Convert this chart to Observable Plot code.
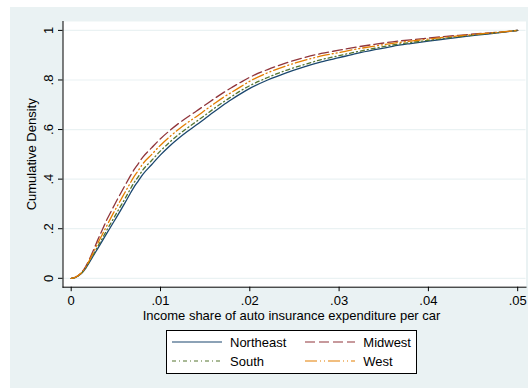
<!DOCTYPE html>
<html><head><meta charset="utf-8">
<script src="https://cdn.jsdelivr.net/npm/d3@7"></script>
<script src="https://cdn.jsdelivr.net/npm/@observablehq/plot@0.6"></script>
<style>
html,body{margin:0;padding:0;background:#fff;}
#wrap{position:relative;width:528px;height:388px;overflow:hidden;font-family:"Liberation Sans",Arial,sans-serif;}
#panel{position:absolute;left:10px;top:7px;right:0;bottom:0;background:#eaf2f3;}
#chart{position:absolute;left:0;top:0;}
#legend{position:absolute;left:166px;top:330px;width:251px;height:44px;box-sizing:border-box;border:1px solid #000;background:#fff;font-size:13px;color:#000;}
#legend .lab{position:absolute;line-height:1;white-space:nowrap;transform:translateY(-50%);}
#legend svg{position:absolute;overflow:visible;}
</style></head>
<body><div id="wrap"><div id="panel"></div><div id="chart"></div><div id="legend"></div></div>
<script>
// ---- data ----
const shares = [0, .0005, .001, .0015, .002, .0025, .003, .0035, .004, .0045, .005, .0055, .006, .0065, .007, .0075, .008, .009, .010, .011, .012, .013, .014, .015, .016, .017, .018, .019, .020, .022, .024, .026, .028, .030, .032, .034, .036, .038, .040, .042, .044, .046, .048, .050];
const northeast = [0, .004, .015, .034, .062, .092, .122, .152, .182, .212, .242, .272, .303, .335, .366, .392, .418, .458, .498, .533, .564, .592, .618, .645, .672, .698, .722, .745, .766, .80, .828, .852, .873, .89, .907, .922, .936, .947, .957, .966, .975, .983, .991, 1.0];
const midwest = [0, .005, .018, .040, .074, .114, .157, .197, .237, .272, .307, .340, .373, .405, .436, .462, .488, .526, .563, .595, .624, .650, .674, .699, .724, .748, .770, .791, .811, .842, .868, .889, .907, .920, .933, .944, .954, .962, .969, .976, .982, .988, .993, 1.0];
const south = [0, .004, .016, .035, .065, .097, .130, .162, .195, .226, .258, .289, .320, .352, .384, .409, .436, .475, .514, .548, .579, .606, .632, .658, .685, .710, .734, .757, .777, .810, .838, .861, .882, .898, .914, .928, .941, .951, .960, .969, .977, .985, .992, 1.0];
const west = [0, .005, .017, .038, .070, .106, .143, .178, .213, .248, .281, .313, .345, .377, .408, .434, .461, .499, .537, .570, .600, .627, .652, .678, .704, .729, .751, .773, .795, .829, .856, .878, .897, .911, .925, .937, .948, .957, .965, .973, .980, .987, .993, 1.0];
const regionNames = ["Northeast", "Midwest", "South", "West"];
const xTicks = [0, .01, .02, .03, .04, .05];
const xTickLabels = ["0", ".01", ".02", ".03", ".04", ".05"];
const yTicks = [0, .2, .4, .6, .8, 1];
const yTickLabels = ["0", ".2", ".4", ".6", ".8", "1"];
const xTitle = "Income share of auto insurance expenditure per car";
const yTitle = "Cumulative Density";

// ---- styles ----
const seriesValues = [northeast, midwest, south, west];
const colors = ["#1a476f", "#90353b", "#55752f", "#e37e00"];
const dashes = [null, "10,4", "4,3,1,3", "12,3,1,3,1,3"];

const lineMarks = seriesValues.map((vals, k) =>
  Plot.line(shares, {x: d => d, y: (d, i) => vals[i], stroke: colors[k], strokeWidth: 1.3,
    strokeDasharray: dashes[k], curve: "monotone-x"}));

const chart = Plot.plot({
  width: 528, height: 388,
  marginLeft: 62.5, marginRight: 2.5, marginTop: 21, marginBottom: 101.3,
  insetLeft: 8.2, insetRight: 8.3, insetTop: 8.9, insetBottom: 8.9,
  x: {domain: [0, 0.05]},
  y: {domain: [0, 1]},
  style: {fontFamily: "Liberation Sans, Arial, sans-serif", fontSize: "13px", background: "transparent", color: "#000", overflow: "visible"},
  marks: [
    Plot.frame({fill: "white", stroke: null}),
    Plot.gridY(yTicks, {stroke: "#eaf2f3", strokeOpacity: 1, strokeWidth: 1.2}),
    ...lineMarks,
    Plot.axisX({ticks: xTicks, tickFormat: (d, i) => xTickLabels[i], tickSize: 4.5, tickPadding: 4, fontSize: 13, label: null, strokeOpacity: 1}),
    Plot.axisY({ticks: yTicks, tickFormat: () => "", tickSize: 4.5, label: null, strokeOpacity: 1}),
    Plot.text(yTicks, {y: d => d, text: (d, i) => yTickLabels[i], frameAnchor: "left", dx: -14.5, rotate: -90, textAnchor: "middle", lineAnchor: "middle", fontSize: 13}),
    Plot.text([yTitle], {text: d => d, frameAnchor: "left", dx: -30.8, rotate: -90, textAnchor: "middle", lineAnchor: "middle", fontSize: 13}),
    Plot.text([xTitle], {text: d => d, frameAnchor: "bottom", dx: -3, dy: 28.3, textAnchor: "middle", lineAnchor: "middle", fontSize: 13}),
    Plot.frame({anchor: "left", stroke: "#000", strokeWidth: 1}),
    Plot.frame({anchor: "bottom", stroke: "#000", strokeWidth: 1})
  ]
});
document.getElementById("chart").appendChild(chart);

// ---- legend ----
const legend = document.getElementById("legend");
const legendOrder = [0, 1, 2, 3];
const cellPos = [[4.7, 11.3], [138, 11.3], [4.7, 30], [138, 30]];
legendOrder.forEach((k, j) => {
  const [lx, ly] = cellPos[j];
  const ns = "http://www.w3.org/2000/svg";
  const svg = document.createElementNS(ns, "svg");
  svg.setAttribute("width", 50); svg.setAttribute("height", 4);
  svg.style.left = lx + "px"; svg.style.top = (ly - 2) + "px";
  const ln = document.createElementNS(ns, "line");
  ln.setAttribute("x1", 0); ln.setAttribute("x2", 50); ln.setAttribute("y1", 2); ln.setAttribute("y2", 2);
  ln.setAttribute("stroke", colors[k]); ln.setAttribute("stroke-width", 1.2);
  if (dashes[k]) ln.setAttribute("stroke-dasharray", dashes[k]);
  svg.appendChild(ln);
  legend.appendChild(svg);
  const t = document.createElement("div");
  t.className = "lab"; t.textContent = regionNames[k];
  t.style.left = (lx + 58.3) + "px"; t.style.top = ly + "px";
  legend.appendChild(t);
});
</script>
</body></html>
